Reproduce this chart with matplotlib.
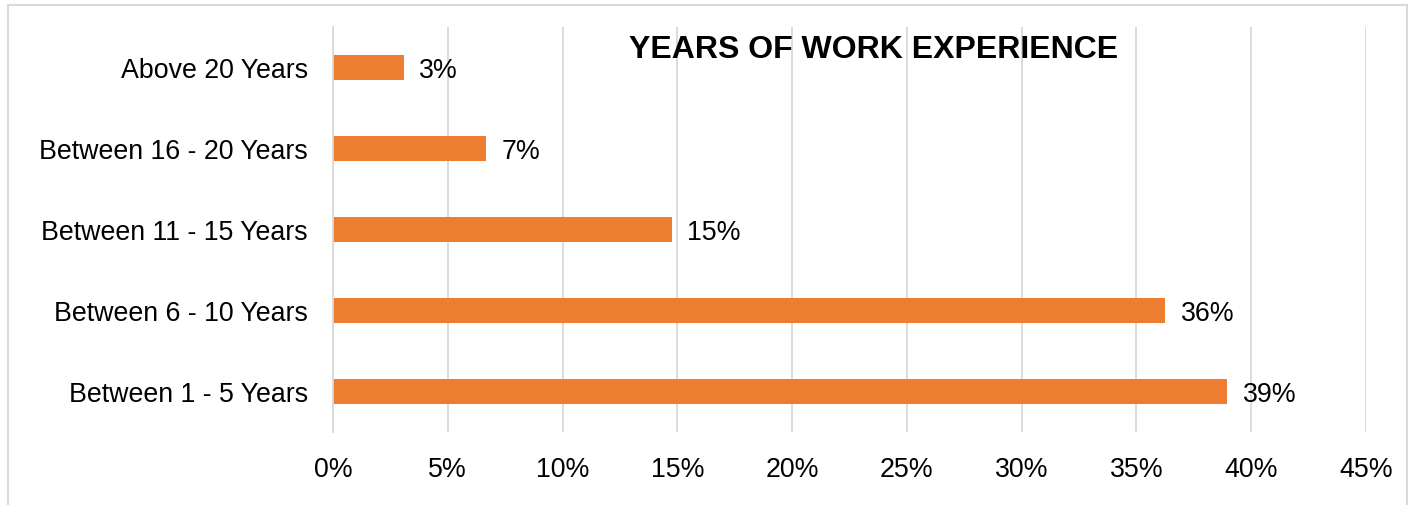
import matplotlib
matplotlib.use("Agg")
import matplotlib.pyplot as plt
from matplotlib.patches import Rectangle
from matplotlib.ticker import FuncFormatter, MultipleLocator

plt.rcParams['font.family'] = ['Liberation Sans', 'DejaVu Sans']

# experience bands, bottom to top
categories = ['Between 1 - 5 Years', 'Between 6 - 10 Years', 'Between 11 - 15 Years',
              'Between 16 - 20 Years', 'Above 20 Years']
shares = [38.96, 36.26, 14.76, 6.66, 3.09]   # percent of respondents

BAR_COLOR = '#ED7D31'
GRID_COLOR = '#D9D9D9'
FS = 19.3

fig = plt.figure(figsize=(14.15, 5.06), dpi=100)
ax = fig.add_axes([333 / 1415, 1 - 433 / 506, (1366 - 333) / 1415, (433 - 28) / 506])

ypos = range(len(categories))
bars = ax.barh(ypos, shares, height=0.31, color=BAR_COLOR, zorder=3)

for bar, v in zip(bars, shares):
    ax.annotate(f'{v:.0f}%', (bar.get_width(), bar.get_y() + bar.get_height() / 2),
                xytext=(11, -1.5), textcoords='offset points', va='center', ha='left',
                fontsize=FS, color='#000000')

ax.set_xlim(0, 45)
ax.set_ylim(-0.5, len(categories) - 0.5)
ax.xaxis.set_major_locator(MultipleLocator(5))
ax.xaxis.set_major_formatter(FuncFormatter(lambda x, _: f'{x:.0f}%'))
ax.set_yticks(list(ypos))
ax.set_yticklabels(categories)
ax.tick_params(axis='both', length=0, labelsize=FS, colors='#000000')
ax.tick_params(axis='x', pad=17)
ax.tick_params(axis='y', pad=18)

ax.grid(axis='x', color=GRID_COLOR, lw=1.3, zorder=0)
for side in ['top', 'right', 'bottom']:
    ax.spines[side].set_visible(False)
ax.spines['left'].set_color(GRID_COLOR)
ax.spines['left'].set_linewidth(1.3)
ax.spines['left'].set_zorder(4)

ax.text(0.523, 0.945, 'YEARS OF WORK EXPERIENCE', transform=ax.transAxes,
        ha='center', va='center', fontsize=23, fontweight='bold', color='#000000')

# light chart border
fig.patches.append(Rectangle((8 / 1415, -0.1), (1407 - 8) / 1415, 1 - 6 / 506 + 0.1,
                             transform=fig.transFigure, fill=False,
                             edgecolor=GRID_COLOR, lw=1.5))

fig.savefig('out.png', dpi=100)
